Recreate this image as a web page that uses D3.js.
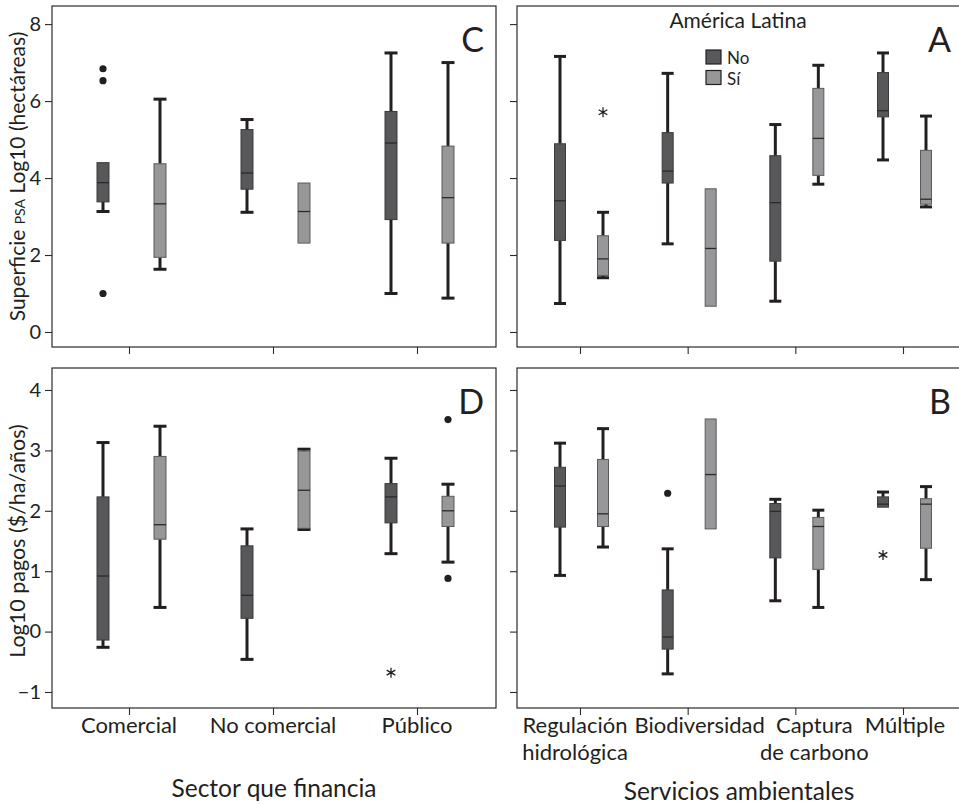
<!DOCTYPE html>
<html>
<head>
<meta charset="utf-8">
<script src="https://cdn.jsdelivr.net/npm/d3@7"></script>
<style>
  html, body { margin: 0; padding: 0; background: #fff; }
  svg { display: block; font-family: Lato, "Open Sans", sans-serif; }
  text { fill: #231f20; }
</style>
</head>
<body>
<div id="chart"></div>
<script>
// categories
const sectorCats = ['Comercial', 'No comercial', 'Público'];
const serviceCats = ['Regulación hidrológica', 'Biodiversidad', 'Captura de carbono', 'Múltiple'];
const serviceLabels = [['Regulación', 'hidrológica'], ['Biodiversidad'], ['Captura', 'de carbono'], ['Múltiple']];
const groups = ['No', 'Sí'];

// box stats: lo whisker, q1, median, q3, hi whisker, dots (outliers), stars (extremes)
// C: superficie by sector
const superficieSector = [
  { cat: 'Comercial', grp: 'No', lo: 3.13, q1: 3.38, med: 3.88, q3: 4.40, hi: 4.40, dots: [6.84, 6.53, 1.00], stars: [] },
  { cat: 'Comercial', grp: 'Sí', lo: 1.63, q1: 1.94, med: 3.33, q3: 4.37, hi: 6.05, dots: [], stars: [] },
  { cat: 'No comercial', grp: 'No', lo: 3.11, q1: 3.71, med: 4.13, q3: 5.26, hi: 5.52, dots: [], stars: [] },
  { cat: 'No comercial', grp: 'Sí', lo: 2.31, q1: 2.31, med: 3.13, q3: 3.87, hi: 3.87, dots: [], stars: [] },
  { cat: 'Público', grp: 'No', lo: 1.00, q1: 2.92, med: 4.91, q3: 5.73, hi: 7.25, dots: [], stars: [] },
  { cat: 'Público', grp: 'Sí', lo: 0.88, q1: 2.31, med: 3.49, q3: 4.83, hi: 7.00, dots: [], stars: [] }
];
// A: superficie by service
const superficieServicio = [
  { cat: 'Regulación hidrológica', grp: 'No', lo: 0.74, q1: 2.38, med: 3.41, q3: 4.89, hi: 7.16, dots: [], stars: [] },
  { cat: 'Regulación hidrológica', grp: 'Sí', lo: 1.41, q1: 1.47, med: 1.90, q3: 2.50, hi: 3.11, dots: [], stars: [5.71] },
  { cat: 'Biodiversidad', grp: 'No', lo: 2.29, q1: 3.87, med: 4.18, q3: 5.18, hi: 6.72, dots: [], stars: [] },
  { cat: 'Biodiversidad', grp: 'Sí', lo: 0.67, q1: 0.67, med: 2.17, q3: 3.72, hi: 3.72, dots: [], stars: [] },
  { cat: 'Captura de carbono', grp: 'No', lo: 0.80, q1: 1.84, med: 3.36, q3: 4.58, hi: 5.39, dots: [], stars: [] },
  { cat: 'Captura de carbono', grp: 'Sí', lo: 3.84, q1: 4.07, med: 5.03, q3: 6.33, hi: 6.93, dots: [], stars: [] },
  { cat: 'Múltiple', grp: 'No', lo: 4.47, q1: 5.59, med: 5.75, q3: 6.74, hi: 7.25, dots: [], stars: [] },
  { cat: 'Múltiple', grp: 'Sí', lo: 3.25, q1: 3.32, med: 3.45, q3: 4.72, hi: 5.61, dots: [], stars: [] }
];
// D: pagos by sector
const pagosSector = [
  { cat: 'Comercial', grp: 'No', lo: -0.26, q1: -0.14, med: 0.92, q3: 2.23, hi: 3.13, dots: [], stars: [] },
  { cat: 'Comercial', grp: 'Sí', lo: 0.40, q1: 1.53, med: 1.77, q3: 2.90, hi: 3.40, dots: [], stars: [] },
  { cat: 'No comercial', grp: 'No', lo: -0.46, q1: 0.22, med: 0.60, q3: 1.42, hi: 1.70, dots: [], stars: [] },
  { cat: 'No comercial', grp: 'Sí', lo: 1.69, q1: 1.71, med: 2.34, q3: 2.99, hi: 3.02, dots: [], stars: [] },
  { cat: 'Público', grp: 'No', lo: 1.29, q1: 1.80, med: 2.23, q3: 2.45, hi: 2.87, dots: [], stars: [-0.68] },
  { cat: 'Público', grp: 'Sí', lo: 1.15, q1: 1.74, med: 2.00, q3: 2.24, hi: 2.44, dots: [3.51, 0.88], stars: [] }
];
// B: pagos by service
const pagosServicio = [
  { cat: 'Regulación hidrológica', grp: 'No', lo: 0.93, q1: 1.73, med: 2.41, q3: 2.72, hi: 3.12, dots: [], stars: [] },
  { cat: 'Regulación hidrológica', grp: 'Sí', lo: 1.40, q1: 1.74, med: 1.95, q3: 2.85, hi: 3.36, dots: [], stars: [] },
  { cat: 'Biodiversidad', grp: 'No', lo: -0.70, q1: -0.29, med: -0.09, q3: 0.69, hi: 1.37, dots: [2.29], stars: [] },
  { cat: 'Biodiversidad', grp: 'Sí', lo: 1.70, q1: 1.70, med: 2.60, q3: 3.52, hi: 3.52, dots: [], stars: [] },
  { cat: 'Captura de carbono', grp: 'No', lo: 0.51, q1: 1.22, med: 1.99, q3: 2.12, hi: 2.19, dots: [], stars: [] },
  { cat: 'Captura de carbono', grp: 'Sí', lo: 0.40, q1: 1.03, med: 1.74, q3: 1.89, hi: 2.01, dots: [], stars: [] },
  { cat: 'Múltiple', grp: 'No', lo: 2.06, q1: 2.06, med: 2.11, q3: 2.23, hi: 2.31, dots: [], stars: [1.27] },
  { cat: 'Múltiple', grp: 'Sí', lo: 0.86, q1: 1.38, med: 2.11, q3: 2.20, hi: 2.40, dots: [], stars: [] }
];

const topTicks = [0, 2, 4, 6, 8];
const bottomTicks = [-1, 0, 1, 2, 3, 4];

const width = 959, height = 804;
const INK = '#231f20';
const fills = { 'No': '#58585a', 'Sí': '#97979a' };
const strokes = { 'No': '#3a3a3a', 'Sí': '#5a5a5c' };

const svg = d3.select('#chart').append('svg')
  .attr('width', width).attr('height', height)
  .attr('viewBox', `0 0 ${width} ${height}`);

// panel geometry
const cols = [{ x0: 52, x1: 496 }, { x0: 517, x1: 961 }];
const rows = [{ y0: 6, y1: 347 }, { y0: 368, y1: 708 }];

const yTop = d3.scaleLinear().domain([-0.39, 8.47]).range([rows[0].y1, rows[0].y0]);
const yBottom = d3.scaleLinear().domain([-1.265, 4.364]).range([rows[1].y1, rows[1].y0]);

const xSector = d3.scalePoint().domain(sectorCats).range([cols[0].x0 + 77, cols[0].x1 - 79]);
const xService = d3.scalePoint().domain(serviceCats).range([cols[1].x0 + 63, cols[1].x1 - 58]);
const dodgeSector = d3.scalePoint().domain(groups).range([-26, 31]);
const dodgeService = d3.scalePoint().domain(groups).range([-20, 23]);

const panels = [
  { letter: 'C', data: superficieSector, x: xSector, dodge: dodgeSector, y: yTop, ticks: topTicks, col: 0, row: 0, bw: 12 },
  { letter: 'A', data: superficieServicio, x: xService, dodge: dodgeService, y: yTop, ticks: topTicks, col: 1, row: 0, bw: 11 },
  { letter: 'D', data: pagosSector, x: xSector, dodge: dodgeSector, y: yBottom, ticks: bottomTicks, col: 0, row: 1, bw: 12 },
  { letter: 'B', data: pagosServicio, x: xService, dodge: dodgeService, y: yBottom, ticks: bottomTicks, col: 1, row: 1, bw: 11 }
];

const star = d3.symbol().type(d3.symbolAsterisk).size(70);

panels.forEach(p => {
  const c = cols[p.col], r = rows[p.row];
  const g = svg.append('g').attr('class', 'panel');

  // frame
  g.append('rect')
    .attr('x', c.x0).attr('y', r.y0)
    .attr('width', c.x1 - c.x0).attr('height', r.y1 - r.y0)
    .attr('fill', 'none').attr('stroke', '#2b2b2b').attr('stroke-width', 1.2);

  // y axis ticks (labels only on the left column)
  const yAxis = d3.axisLeft(p.y).tickValues(p.ticks).tickSize(7).tickPadding(4)
    .tickFormat(p.col === 0 ? (d => d < 0 ? '\u2212' + Math.abs(d) : d) : '');
  const ya = g.append('g').attr('transform', `translate(${c.x0},0)`).call(yAxis);
  ya.select('.domain').remove();
  ya.selectAll('line').attr('stroke', '#2b2b2b').attr('stroke-width', 1.1);
  ya.selectAll('text').attr('font-size', 20).attr('fill', INK)
    .attr('font-family', 'Lato, sans-serif');

  // x axis ticks
  const xAxis = d3.axisBottom(p.x).tickSize(7).tickFormat('');
  const xa = g.append('g').attr('transform', `translate(0,${r.y1})`).call(xAxis);
  xa.select('.domain').remove();
  xa.selectAll('line').attr('stroke', '#2b2b2b').attr('stroke-width', 1.1);

  // boxes
  const boxes = g.selectAll('g.box').data(p.data).enter().append('g')
    .attr('class', 'box')
    .attr('transform', d => `translate(${p.x(d.cat) + p.dodge(d.grp)},0)`);

  const hw = p.bw / 2;
  const capW = p.bw + 1;

  // upper whisker
  boxes.filter(d => d.hi > d.q3).each(function(d) {
    const s = d3.select(this);
    s.append('line').attr('x1', 0).attr('x2', 0)
      .attr('y1', p.y(d.q3)).attr('y2', p.y(d.hi))
      .attr('stroke', INK).attr('stroke-width', 3);
    s.append('line').attr('x1', -capW / 2).attr('x2', capW / 2)
      .attr('y1', p.y(d.hi)).attr('y2', p.y(d.hi))
      .attr('stroke', INK).attr('stroke-width', 3);
  });
  // lower whisker
  boxes.filter(d => d.lo < d.q1).each(function(d) {
    const s = d3.select(this);
    s.append('line').attr('x1', 0).attr('x2', 0)
      .attr('y1', p.y(d.q1)).attr('y2', p.y(d.lo))
      .attr('stroke', INK).attr('stroke-width', 3);
    s.append('line').attr('x1', -capW / 2).attr('x2', capW / 2)
      .attr('y1', p.y(d.lo)).attr('y2', p.y(d.lo))
      .attr('stroke', INK).attr('stroke-width', 3);
  });

  boxes.append('rect')
    .attr('x', -hw).attr('width', p.bw)
    .attr('y', d => p.y(d.q3))
    .attr('height', d => p.y(d.q1) - p.y(d.q3))
    .attr('fill', d => fills[d.grp])
    .attr('stroke', d => strokes[d.grp])
    .attr('stroke-width', 1);

  boxes.append('line')
    .attr('x1', -hw).attr('x2', hw)
    .attr('y1', d => p.y(d.med)).attr('y2', d => p.y(d.med))
    .attr('stroke', '#2a2a2a').attr('stroke-width', 1.3);

  boxes.selectAll('circle.out').data(d => d.dots).enter().append('circle')
    .attr('class', 'out').attr('cx', 0).attr('cy', v => p.y(v))
    .attr('r', 3.6).attr('fill', INK);

  boxes.selectAll('path.ext').data(d => d.stars).enter().append('path')
    .attr('class', 'ext').attr('d', star)
    .attr('transform', v => `translate(0,${p.y(v)})`)
    .attr('fill', 'none').attr('stroke', INK).attr('stroke-width', 1.3);

  // panel letter
  g.append('text')
    .attr('x', c.x1 - (p.col === 0 ? 12 : 10))
    .attr('y', r.y0 + 46)
    .attr('text-anchor', 'end')
    .attr('font-size', 34)
    .text(p.letter);
});

// x tick labels
const labelFont = 22;
svg.append('g').selectAll('text').data(sectorCats).enter().append('text')
  .attr('x', d => xSector(d))
  .attr('y', 733)
  .attr('text-anchor', 'middle')
  .attr('font-size', labelFont)
  .text(d => d);

// service labels are nudged sideways to avoid overlap
const serviceNudge = [-5, 12, 19, 2];
const sl = svg.append('g').selectAll('text').data(serviceCats).enter().append('text')
  .attr('text-anchor', 'middle')
  .attr('font-size', labelFont);
sl.each(function(d, i) {
  const t = d3.select(this);
  serviceLabels[i].forEach((line, j) => {
    t.append('tspan')
      .attr('x', xService(d) + serviceNudge[i])
      .attr('y', 733 + j * 27)
      .text(line);
  });
});

// axis titles
svg.append('text')
  .attr('x', (cols[0].x0 + cols[0].x1) / 2).attr('y', 797)
  .attr('text-anchor', 'middle').attr('font-size', 24.5)
  .text('Sector que financia');
svg.append('text')
  .attr('x', (cols[1].x0 + cols[1].x1) / 2).attr('y', 800)
  .attr('text-anchor', 'middle').attr('font-size', 24.5)
  .text('Servicios ambientales');

const yt1 = svg.append('text')
  .attr('transform', `translate(25,${(rows[0].y0 + rows[0].y1) / 2}) rotate(-90)`)
  .attr('text-anchor', 'middle').attr('font-size', 21);
yt1.append('tspan').text('Superficie ');
yt1.append('tspan').attr('font-size', 14).text('PSA');
yt1.append('tspan').text(' Log10 (hectáreas)');

svg.append('text')
  .attr('transform', `translate(25,541) rotate(-90)`)
  .attr('text-anchor', 'middle').attr('font-size', 21.5)
  .text('Log10 pagos ($/ha/años)');

// legend
svg.append('text')
  .attr('x', 738).attr('y', 28)
  .attr('text-anchor', 'middle').attr('font-size', 21)
  .text('América Latina');

const leg = svg.append('g').attr('transform', 'translate(706,50)');
const li = leg.selectAll('g').data(groups).enter().append('g')
  .attr('transform', (d, i) => `translate(0,${i * 20.5})`);
li.append('rect').attr('width', 15).attr('height', 14)
  .attr('fill', d => fills[d]).attr('stroke', INK).attr('stroke-width', 1.2);
li.append('text').attr('x', 21).attr('y', 14)
  .attr('font-size', 17).text(d => d);
</script>
</body>
</html>
